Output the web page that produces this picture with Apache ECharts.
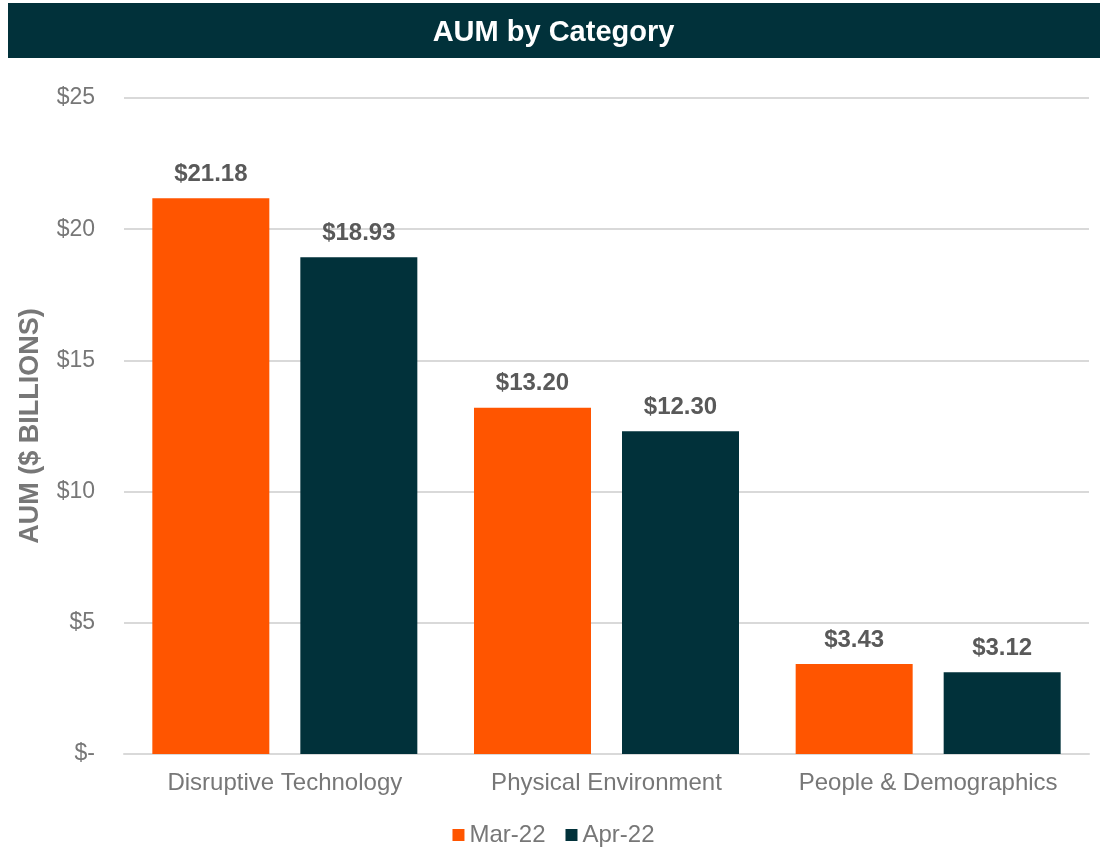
<!DOCTYPE html>
<html>
<head>
<meta charset="utf-8">
<script src="https://cdn.jsdelivr.net/npm/echarts@6/dist/echarts.min.js"></script>
<style>
  html, body { margin: 0; padding: 0; background: #fff; }
  #chart { width: 1107px; height: 849px; }
</style>
</head>
<body>
<div id="chart"></div>
<script>
var categories = ['Disruptive Technology', 'Physical Environment', 'People & Demographics'];
var mar22 = [21.18, 13.20, 3.43];
var apr22 = [18.93, 12.30, 3.12];
var seriesNames = ['Mar-22', 'Apr-22'];

var font = 'Liberation Sans, Arial, sans-serif';
var orange = '#ff5500';
var teal = '#01313a';

var myChart = echarts.init(document.getElementById('chart'));

function dataLabel() {
  return {
    show: true,
    position: 'top',
    distance: 12,
    fontFamily: font,
    fontSize: 24,
    fontWeight: 'bold',
    color: '#595959',
    formatter: function (p) { return '$' + p.value.toFixed(2); }
  };
}

var option = {
  backgroundColor: '#fff',
  textStyle: { fontFamily: font },
  graphic: [{
    type: 'rect',
    left: 8, top: 3,
    shape: { width: 1092, height: 55 },
    style: { fill: teal }
  }, {
    type: 'text',
    left: 'center', top: 18,
    style: {
      text: 'AUM by Category',
      fill: '#fff',
      font: 'bold 29px ' + font
    }
  }],
  legend: {
    data: seriesNames,
    bottom: -3,
    left: 'center',
    itemWidth: 12,
    itemHeight: 12,
    itemGap: 20,
    icon: 'rect',
    textStyle: { fontFamily: font, fontSize: 24, color: '#777' }
  },
  grid: { left: 124, right: 18, top: 98, bottom: 95 },
  xAxis: {
    type: 'category',
    data: categories,
    axisLine: { show: true, lineStyle: { color: '#d9d9d9', width: 2 } },
    axisTick: { show: false },
    axisLabel: { interval: 0, fontFamily: font, fontSize: 24, color: '#777', margin: 17 }
  },
  yAxis: {
    type: 'value',
    min: 0, max: 25, interval: 5,
    name: 'AUM ($ BILLIONS)',
    nameLocation: 'middle',
    nameGap: 80,
    nameTextStyle: { fontFamily: font, fontSize: 27, fontWeight: 'bold', color: '#777' },
    axisLine: { show: false },
    axisTick: { show: false },
    splitLine: { lineStyle: { color: '#d9d9d9', width: 2 } },
    axisLabel: {
      fontFamily: font, fontSize: 23, color: '#777', margin: 29,
      formatter: function (v) { return v === 0 ? '$-' : '$' + v; }
    }
  },
  series: [{
    name: seriesNames[0],
    type: 'bar',
    data: mar22,
    barWidth: 117,
    barGap: '26.5%',
    itemStyle: { color: orange },
    label: dataLabel()
  }, {
    name: seriesNames[1],
    type: 'bar',
    data: apr22,
    barWidth: 117,
    itemStyle: { color: teal },
    label: dataLabel()
  }]
};

myChart.setOption(option);
</script>
</body>
</html>
